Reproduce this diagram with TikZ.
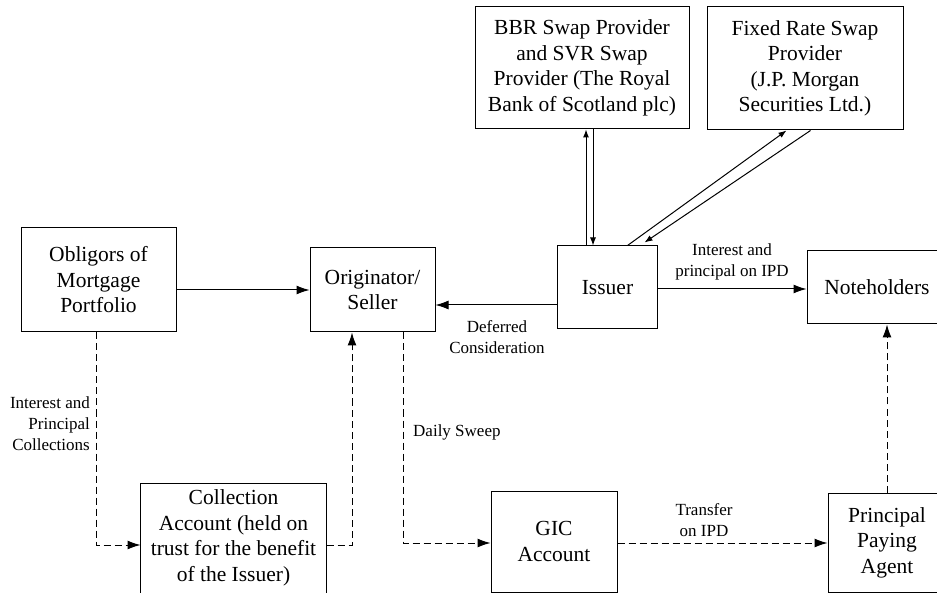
\documentclass[tikz,border=0pt]{standalone}
\usepackage{fontspec}
\setmainfont{Liberation Serif}
\usetikzlibrary{arrows.meta,calc}
\begin{document}
\begin{tikzpicture}[x=1pt,y=-1pt,
 box/.style={draw, line width=1pt, align=center, inner sep=0pt, font=\fontsize{21.5}{25.5}\selectfont},
 lbl/.style={inner sep=0pt, align=center, font=\fontsize{17}{21}\selectfont},
 arr/.style={line width=1pt, -{Latex[length=13pt,width=9pt]}},
 sarr/.style={line width=1pt, -{Latex[length=8pt,width=6pt]}},
 darr/.style={arr, dash pattern=on 7pt off 4pt},
]
\clip (0,0) rectangle (937,593);
\fill[white] (0,0) rectangle (937,593);
% boxes
\node[box, minimum width=214pt, minimum height=122pt] (bbr) at (582,68) {BBR Swap Provider\\and SVR Swap\\Provider (The Royal\\Bank of Scotland plc)};
\node[box, minimum width=196pt, minimum height=123pt] (fixed) at (805,68.5) {Fixed Rate Swap\\Provider\\(J.P. Morgan\\Securities Ltd.)};
\node[box, minimum width=155pt, minimum height=104pt] (obl) at (98.5,280) {Obligors of\\Mortgage\\Portfolio};
\node[box, minimum width=125pt, minimum height=84pt] (orig) at (372.5,290) {Originator/\\Seller};
\node[box, minimum width=100pt, minimum height=83pt] (issuer) at (607.5,287.5) {Issuer};
\node[box, minimum width=140pt, minimum height=73pt] (note) at (877,287.5) {Noteholders};
\node[box, draw=none, minimum width=185pt, minimum height=108pt] (coll) at (233.5,538) {Collection\\Account (held on\\trust for the benefit\\of the Issuer)};
\draw[line width=1pt] ($(coll.south west)+(0,20)$) |- (coll.north east) -- ($(coll.south east)+(0,20)$);
\node[box, minimum width=126pt, minimum height=101pt] (gic) at (554,541.5) {GIC\\Account};
\node[box, minimum width=118pt, minimum height=99pt] (ppa) at (887,542.5) {Principal\\Paying\\Agent};
% solid connectors
\draw[arr] (obl.east |- orig.west) -- (orig.west);
\draw[arr] (issuer.west |- 0,305) -- (orig.east |- 0,305);
\draw[arr] (issuer.east |- 0,289) -- (note.west |- 0,289);
\draw[sarr] (issuer.north -| 586,0) -- (bbr.south -| 586,0);
\draw[sarr] (bbr.south -| 593,0) -- (issuer.north -| 593,0);
\draw[sarr] ($(issuer.north west)+(70.5,0)$) -- ($(fixed.south west)+(80,0)$);
\draw[sarr] ($(fixed.south west)+(104,0)$) -- ($(issuer.north west)+(87.5,-3)$);
% dashed connectors
\draw[darr] (obl.south -| 96,0) |- (coll.west |- 0,545);
\draw[darr] (coll.east |- 0,545) -| (orig.south -| 352,0);
\draw[darr] (orig.south -| 403,0) |- (gic.west |- 0,543);
\draw[darr] (gic.east |- 0,543) -- (ppa.west |- 0,543);
\draw[darr] (ppa.north) -- (note.south -| ppa.north);
% labels
\node[lbl, align=right, anchor=east] (l1) at (90,424) {Interest and\\Principal\\Collections};
\node[lbl, anchor=west] (l2) at (413,432) {Daily Sweep};
\node[lbl] (l3) at (497,337) {Deferred\\Consideration};
\node[lbl] (l4) at (732,262) {Interest and\\principal on IPD};
\node[lbl] (l5) at (704,520) {Transfer\\on IPD};
\end{tikzpicture}
\end{document}
